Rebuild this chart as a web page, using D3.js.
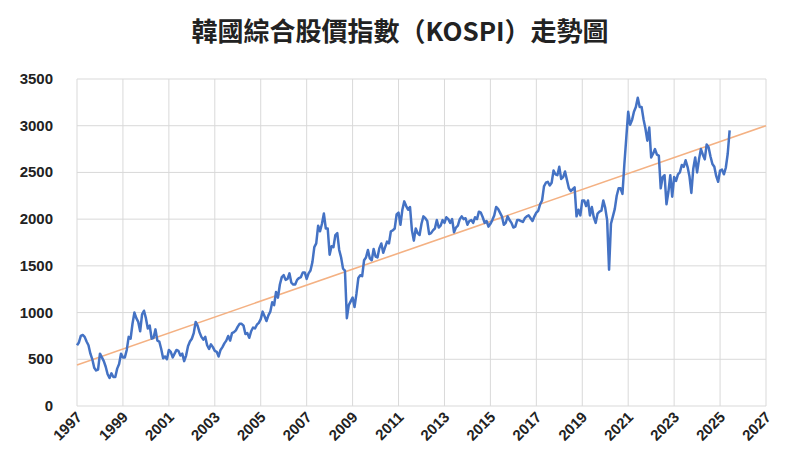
<!DOCTYPE html><html><head><meta charset="utf-8"><script src="https://cdn.jsdelivr.net/npm/d3@7"></script>
<style>body{margin:0;background:#fff}</style></head><body><svg width="800" height="471"></svg><script>
const title="韓國綜合股價指數（KOSPI）走勢圖";
const startYear=1997;
const kospiMonthly=[
650,680,750,760,740,690,650,560,500,410,380,390,
560,520,480,420,340,300,350,310,310,400,450,560,
520,520,600,740,720,880,1000,940,900,800,980,1020,
940,830,860,720,730,820,700,690,610,510,530,500,
600,580,520,560,600,590,540,560,480,540,640,690,
720,780,900,860,790,740,710,740,650,610,660,630,
590,580,530,600,630,670,700,750,700,780,790,810,
850,880,880,860,770,780,730,800,840,830,870,890,
930,1010,960,910,970,1010,1110,1080,1220,1160,1300,1380,
1400,1350,1360,1420,1320,1300,1300,1350,1370,1380,1430,1430,
1360,1420,1450,1540,1700,1740,1930,1870,1950,2060,1900,1900,
1620,1710,1700,1830,1850,1670,1590,1470,1450,940,1080,1120,
1160,1060,1200,1370,1400,1390,1560,1590,1670,1580,1560,1680,
1600,1590,1690,1740,1640,1700,1760,1740,1870,1880,1900,2050,
2070,1940,2100,2190,2140,2100,2130,1880,1770,1900,1850,1830,
1950,2030,2010,1980,1840,1850,1880,1900,1990,1910,1930,1990,
1960,2020,2000,1960,2000,1860,1910,1930,2000,2030,2000,2010,
1940,1980,1990,1960,2020,2000,2080,2070,2020,1960,1980,1920,
1950,1990,2040,2130,2110,2070,2030,1940,1960,2030,1990,1960,
1910,1920,1990,1990,1980,1970,2010,2030,2040,2010,1980,2030,
2070,2090,2160,2200,2350,2390,2400,2360,2390,2520,2480,2470,
2560,2430,2450,2510,2420,2330,2300,2320,2340,2030,2100,2040,
2200,2200,2140,2200,2040,2130,2020,1960,2060,2080,2090,2200,
2120,1990,1460,1950,2030,2110,2250,2330,2330,2270,2590,2870,
3150,3010,3060,3150,3200,3300,3200,3200,3070,2970,2840,2980,
2660,2700,2750,2690,2680,2330,2450,2470,2160,2290,2470,2240,
2450,2410,2480,2500,2580,2560,2630,2560,2460,2280,2540,2660,
2500,2640,2750,2690,2640,2800,2770,2670,2590,2560,2460,2400,
2520,2530,2480,2550,2700,2950];
const trendStart=[1997,440], trendEnd=[2027,3000];
const yTicks=[0,500,1000,1500,2000,2500,3000,3500];
const xTicks=[1997,1999,2001,2003,2005,2007,2009,2011,2013,2015,2017,2019,2021,2023,2025,2027];
const svg=d3.select("svg");
const x=d3.scaleLinear().domain([1997,2027]).range([77,766]);
const y=d3.scaleLinear().domain([0,3500]).range([406,79]);
svg.append("text").attr("x",400).attr("y",41).attr("text-anchor","middle").attr("font-family","Noto Sans CJK TC").attr("font-weight","bold").attr("font-size",26).attr("fill","#222").text(title);
const g=svg.append("g");
g.selectAll(".h").data(yTicks).join("line").attr("x1",77).attr("x2",766).attr("y1",d=>y(d)).attr("y2",d=>y(d)).attr("stroke","#d9d9d9");
g.selectAll(".v").data(xTicks).join("line").attr("x1",d=>x(d)).attr("x2",d=>x(d)).attr("y1",79).attr("y2",406).attr("stroke","#d9d9d9");
g.selectAll(".yl").data(yTicks).join("text").attr("x",53).attr("y",d=>y(d)+5).attr("text-anchor","end").attr("font-family","Liberation Sans").attr("font-weight","bold").attr("font-size",15).attr("fill","#222").text(d=>d);
g.selectAll(".xl").data(xTicks).join("text").attr("transform",d=>`translate(${x(d)+6},${418}) rotate(-45)`).attr("text-anchor","end").attr("font-family","Liberation Sans").attr("font-weight","bold").attr("font-size",15).attr("fill","#222").text(d=>d);
g.append("line").attr("x1",x(trendStart[0])).attr("y1",y(trendStart[1])).attr("x2",x(trendEnd[0])).attr("y2",y(trendEnd[1])).attr("stroke","#F4B183").attr("stroke-width",1.6);
const line=d3.line().x((d,i)=>x(startYear+i/12)).y(d=>y(d));
g.append("path").attr("d",line(kospiMonthly)).attr("fill","none").attr("stroke","#4472C4").attr("stroke-width",2.5).attr("stroke-linejoin","round");
</script></body></html>
